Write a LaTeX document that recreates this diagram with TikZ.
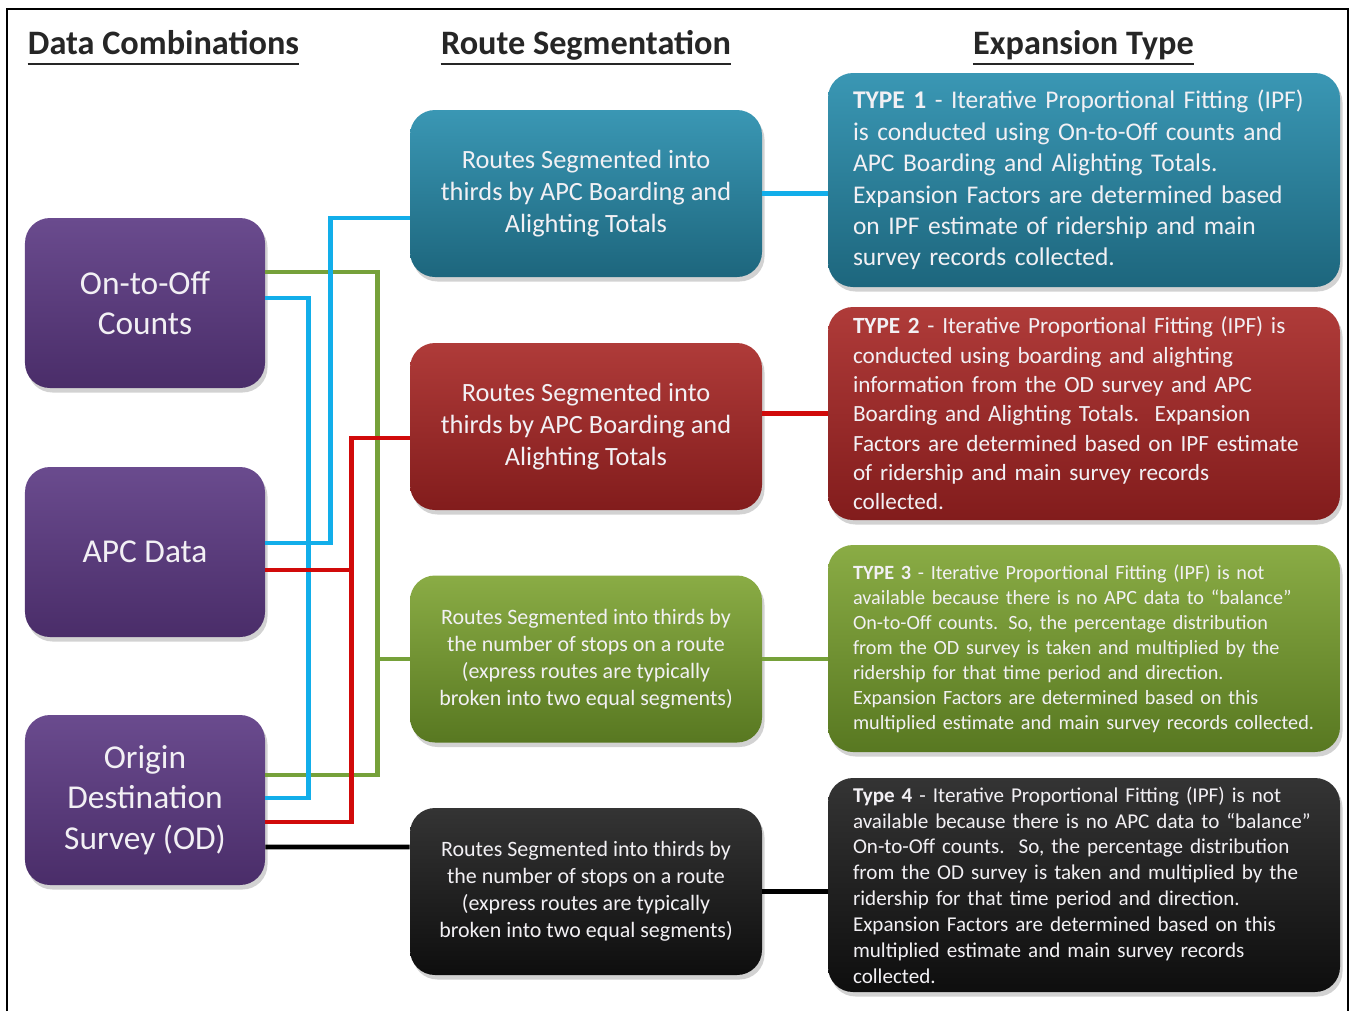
\documentclass[tikz,border=0pt]{standalone}
\usepackage{fontspec}
\setmainfont{Carlito}
\usepackage{tikz}
\usetikzlibrary{shadows}

\definecolor{plumtop}{HTML}{6A4B8E}
\definecolor{plumbot}{HTML}{4A2D69}
\definecolor{tealtop}{HTML}{3A97B4}
\definecolor{tealbot}{HTML}{1D667D}
\definecolor{bricktop}{HTML}{AF3B39}
\definecolor{brickbot}{HTML}{821C1C}
\definecolor{mosstop}{HTML}{8AAC45}
\definecolor{mossbot}{HTML}{587821}
\definecolor{coaltop}{HTML}{343434}
\definecolor{coalbot}{HTML}{0E0E0E}
\definecolor{wirecyan}{HTML}{12AEEA}
\definecolor{wiregreen}{HTML}{76A13A}
\definecolor{wirered}{HTML}{D10A0A}
\definecolor{boxtext}{HTML}{F2F0F4}

\begin{document}
\begin{tikzpicture}[
    box/.style={rounded corners=0.5cm, text=boxtext, inner sep=0pt, align=center,
      drop shadow={opacity=0.35, shadow xshift=0.05cm, shadow yshift=-0.09cm}},
    databox/.style={box, top color=plumtop, bottom color=plumbot, minimum width=4.8cm,
      minimum height=3.4cm, font=\fontsize{19}{23.2}\selectfont},
    segbox/.style={box, minimum width=7.04cm, minimum height=3.34cm},
    typebox/.style={box, minimum width=10.24cm, align=left, text width=9.24cm},
    headnode/.style={inner sep=0pt, text=black!85, font=\fontsize{19.5}{23}\selectfont\bfseries},
    headrule/.style={line width=1.6pt, black!85},
    wire/.style={line width=2.6pt},
    cyanwire/.style={wire, wirecyan},
    greenwire/.style={wire, wiregreen},
    redwire/.style={wire, wirered},
    blackwire/.style={wire, black}]
  \useasboundingbox[fill=white] (0,0) rectangle (27.02,-20.22);
  \draw[line width=1.1pt] (0.14,-20.22) -- (0.14,-0.18) -- (26.96,-0.18) -- (26.96,-20.22);

  \node[headnode, anchor=base] (hdata) at (3.27,-1.08) {Data Combinations};
  \node[headnode, anchor=base] (hseg) at (11.72,-1.08) {Route Segmentation};
  \node[headnode, anchor=base] (hexp) at (21.67,-1.08) {Expansion Type};
  \draw[headrule] ([yshift=-0.2cm]hdata.base west) -- ([yshift=-0.2cm]hdata.base east);
  \draw[headrule] ([yshift=-0.2cm]hseg.base west) -- ([yshift=-0.2cm]hseg.base east);
  \draw[headrule] ([yshift=-0.2cm]hexp.base west) -- ([yshift=-0.2cm]hexp.base east);

  \node[databox] (occ) at (2.9,-6.06) {On-to-Off\\Counts};
  \node[databox] (apc) at (2.9,-11.04) {APC Data};
  \node[databox] (ods) at (2.9,-16.0) {Origin\\Destination\\Survey (OD)};

  \node[segbox, top color=tealtop, bottom color=tealbot, font=\fontsize{15}{18}\selectfont] (rs1) at (11.72,-3.87) {Routes Segmented into\\thirds by APC Boarding and\\Alighting Totals};
  \node[segbox, top color=bricktop, bottom color=brickbot, font=\fontsize{15}{18}\selectfont] (rs2) at (11.72,-8.53) {Routes Segmented into\\thirds by APC Boarding and\\Alighting Totals};
  \node[segbox, top color=mosstop, bottom color=mossbot, font=\fontsize{12.5}{15.3}\selectfont] (rs3) at (11.72,-13.18) {Routes Segmented into thirds by\\the number of stops on a route\\(express routes are typically\\broken into two equal segments)};
  \node[segbox, top color=coaltop, bottom color=coalbot, font=\fontsize{12.5}{15.3}\selectfont] (rs4) at (11.72,-17.83) {Routes Segmented into thirds by\\the number of stops on a route\\(express routes are typically\\broken into two equal segments)};

  \node[typebox, top color=tealtop, bottom color=tealbot, minimum height=4.28cm, font=\fontsize{14.5}{17.9}\selectfont] (et1) at (21.68,-3.6) {\textbf{TYPE 1} - Iterative Proportional Fitting (IPF)\\is conducted using On-to-Off counts and\\APC Boarding and Alighting Totals.\\Expansion Factors are determined based\\on IPF estimate of ridership and main\\survey records collected.};
  \node[typebox, top color=bricktop, bottom color=brickbot, minimum height=4.26cm, font=\fontsize{13.2}{16.7}\selectfont] (et2) at (21.68,-8.27) {\textbf{TYPE 2} - Iterative Proportional Fitting (IPF) is\\conducted using boarding and alighting\\information from the OD survey and APC\\Boarding and Alighting Totals.\ \ Expansion\\Factors are determined based on IPF estimate\\of ridership and main survey records\\collected.};
  \node[typebox, top color=mosstop, bottom color=mossbot, minimum height=4.14cm, font=\fontsize{11.5}{14.2}\selectfont] (et3) at (21.68,-12.97) {\textbf{TYPE 3} - Iterative Proportional Fitting (IPF) is not\\available because there is no APC data to “balance”\\On-to-Off counts. So, the percentage distribution\\from the OD survey is taken and multiplied by the\\ridership for that time period and direction.\\Expansion Factors are determined based on this\\multiplied estimate and main survey records collected.};
  \node[typebox, top color=coaltop, bottom color=coalbot, minimum height=4.28cm, font=\fontsize{12}{14.7}\selectfont] (et4) at (21.68,-17.7) {\textbf{Type 4} - Iterative Proportional Fitting (IPF) is not\\available because there is no APC data to “balance”\\On-to-Off counts.\ \ So, the percentage distribution\\from the OD survey is taken and multiplied by the\\ridership for that time period and direction.\\Expansion Factors are determined based on this\\multiplied estimate and main survey records\\collected.};

  \draw[greenwire] ([yshift=0.62cm]occ.east) -- ++(2.24,0) |- ([yshift=0.5cm]ods.east);
  \draw[greenwire] (rs3.west) -- ++(-0.66,0);
  \draw[cyanwire] ([yshift=0.1cm]occ.east) -- ++(0.86,0) |- ([yshift=0.04cm]ods.east);
  \draw[cyanwire] ([yshift=0.18cm]apc.east) -- ++(1.3,0) |- ([yshift=-0.49cm]rs1.west);
  \draw[redwire] ([yshift=-0.23cm]rs2.west) -- ++(-1.16,0) |- ([yshift=-0.44cm]ods.east);
  \draw[redwire] ([yshift=-0.36cm]apc.east) -- ++(1.74,0);
  \draw[blackwire] ([yshift=-0.94cm]ods.east) -- ([yshift=0.89cm]rs4.west);

  \draw[cyanwire] (rs1.east) -- (rs1.east -| et1.west);
  \draw[redwire] (et2.west -| rs2.east) -- (et2.west);
  \draw[greenwire] (rs3.east) -- (rs3.east -| et3.west);
  \draw[blackwire] (rs4.east) -- (rs4.east -| et4.west);
\end{tikzpicture}
\end{document}
